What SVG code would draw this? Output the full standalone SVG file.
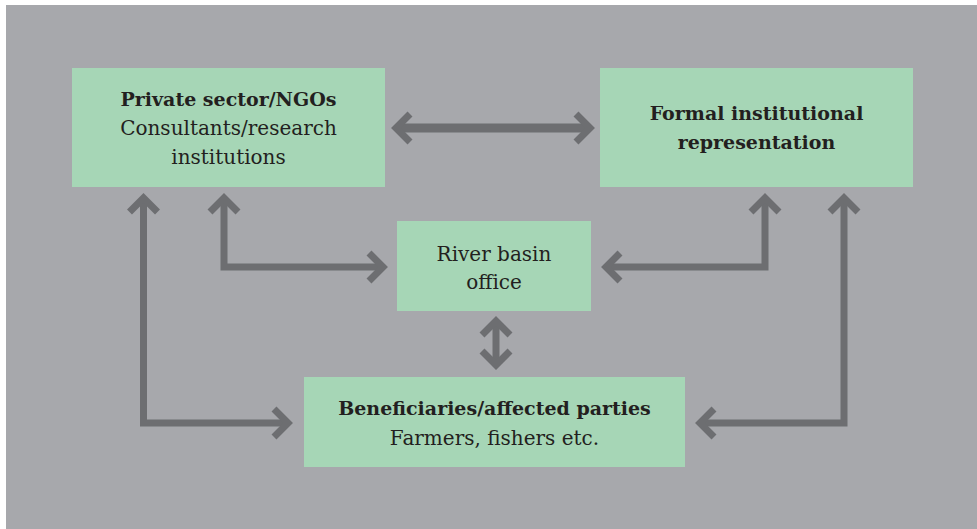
<svg xmlns="http://www.w3.org/2000/svg" width="977" height="529" viewBox="0 0 977 529">
<style>
.box{fill:#a6d6b6}
.t{font-family:'DejaVu Serif','Liberation Serif',serif;font-size:20px;fill:#231f20;text-anchor:middle}
.b{font-weight:bold;font-size:19px}
.c{fill:none;stroke:#6d6e71;stroke-width:7;stroke-linejoin:miter}
.c9{stroke-width:9}
</style>
<defs>
<marker id="ah" markerUnits="userSpaceOnUse" viewBox="-30 -30 60 60" markerWidth="60" markerHeight="60" refX="0" refY="0" orient="auto-start-reverse" overflow="visible">
<path d="M-14,-14 L0,0 L-14,14" fill="none" stroke="#6d6e71" stroke-width="7" stroke-linejoin="miter"/>
</marker>
</defs>
<rect x="0" y="0" width="977" height="529" fill="#ffffff"/>
<rect x="6" y="5" width="971" height="524" fill="#a7a8ac"/>
<g id="connectors">
<path class="c c9" d="M396,128 H590" marker-start="url(#ah)" marker-end="url(#ah)"/>
<path class="c" d="M224,198 V267 H383" marker-start="url(#ah)" marker-end="url(#ah)"/>
<path class="c" d="M143.5,198 V423 H288" marker-start="url(#ah)" marker-end="url(#ah)"/>
<path class="c" d="M765,198 V267 H606" marker-start="url(#ah)" marker-end="url(#ah)"/>
<path class="c" d="M844,198 V423 H700" marker-start="url(#ah)" marker-end="url(#ah)"/>
<path class="c" d="M496,321 V365" marker-start="url(#ah)" marker-end="url(#ah)"/>
</g>
<g id="private">
<rect class="box" x="72" y="68" width="313" height="119"/>
<text class="t b" x="228.5" y="106">Private sector/NGOs</text>
<text class="t" x="228.5" y="135">Consultants/research</text>
<text class="t" x="228.5" y="164">institutions</text>
</g>
<g id="formal">
<rect class="box" x="600" y="68" width="313" height="119"/>
<text class="t b" x="756.5" y="120">Formal institutional</text>
<text class="t b" x="756.5" y="149">representation</text>
</g>
<g id="river">
<rect class="box" x="397" y="221" width="194" height="90"/>
<text class="t" x="494" y="261">River basin</text>
<text class="t" x="494" y="289">office</text>
</g>
<g id="beneficiaries">
<rect class="box" x="304" y="377" width="381" height="90"/>
<text class="t b" x="494.5" y="415">Beneficiaries/affected parties</text>
<text class="t" x="494.5" y="445">Farmers, fishers etc.</text>
</g>
</svg>
